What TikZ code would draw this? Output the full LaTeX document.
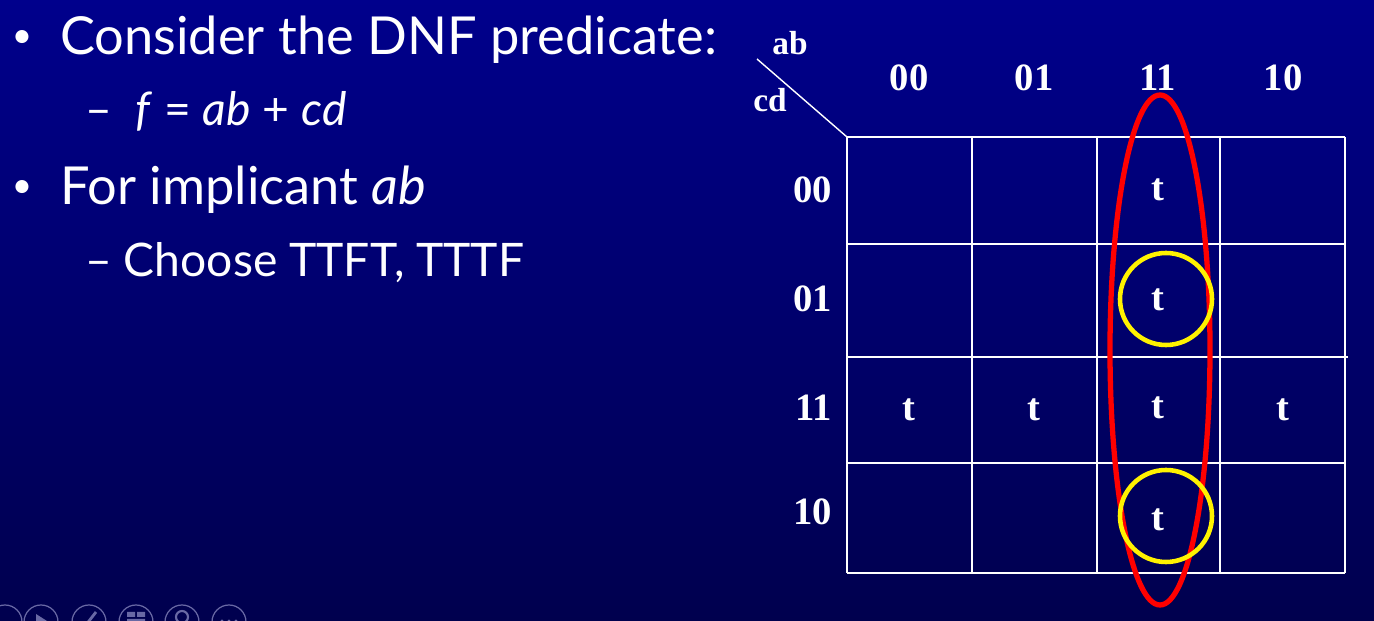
\documentclass[tikz,border=0pt]{standalone}
\usepackage{fontspec}
\setmainfont{Liberation Serif}
\newfontfamily\slidefont{Lato}
\usetikzlibrary{positioning}

\definecolor{slidetop}{RGB}{0,0,140}
\definecolor{slidebottom}{RGB}{0,0,78}
\definecolor{navgray}{RGB}{105,105,165}

\begin{document}
\begin{tikzpicture}[x=0.02cm,y=-0.02cm,
    bullettext/.style={anchor=base west,text=white,inner sep=0pt,
      font=\slidefont\fontsize{29.8}{29.8}\selectfont},
    subtext/.style={bullettext,font=\slidefont\fontsize{26.3}{26.3}\selectfont},
    bulletdot/.style={text=white,inner sep=0pt,
      font=\slidefont\fontsize{20}{20}\selectfont},
    maplabel/.style={text=white,inner sep=0pt,
      font=\bfseries\fontsize{22}{22}\selectfont},
    cornerlabel/.style={maplabel,font=\bfseries\fontsize{19}{19}\selectfont},
    gridline/.style={white,line width=1.1pt},
    redloop/.style={red,line width=3pt},
    yellowloop/.style={yellow,line width=2.6pt},
    navbutton/.style={navgray,line width=0.7pt}]

    % Background
    \shade[top color=slidetop,bottom color=slidebottom] (0,0) rectangle (1374,621);
    \useasboundingbox (0,0) rectangle (1374,621);

    % Slide text
    \node[bulletdot] (dotA) at (22,39) {•};
    \node[bullettext] (consider) at (60,55) {Consider the DNF predicate:};
    \node[subtext] (dashA) at (85,126) {–};
    \node[subtext] (formula) at (135,126) {\itshape f\/\upshape{} = \itshape ab\/\upshape{} + \itshape cd};
    \node[bulletdot] (dotB) at (22,189) {•};
    \node[bullettext] (implicant) at (60,205) {For implicant \textit{ab}};
    \node[subtext] (choose) at (85,277) {– Choose TTFT, TTTF};

    % Karnaugh map grid
    \foreach \x in {847,972,1097,1220,1345} {
        \draw[gridline] (\x,137) -- (\x,573);
    }
    \foreach \y in {137,244,463,573} {
        \draw[gridline] (847,\y) -- (1345,\y);
    }
    \draw[white,line width=1.7pt] (847,357) -- (1348,357);

    % Corner
    \coordinate (corner) at (847,137);
    \coordinate (slashtop) at (757,59);
    \draw[gridline,line width=0.8pt] (slashtop) -- (corner);
    \node[cornerlabel] (ab) at (790,43) {ab};
    \node[cornerlabel] (cd) at (770,100) {cd};

    % Column labels (ab)
    \node[maplabel] (col00) at (909,78) {00};
    \node[maplabel] (col01) at (1034,78) {01};
    \node[maplabel] (col11) at (1158,78) {11};
    \node[maplabel] (col10) at (1283,78) {10};

    % Row labels (cd)
    \node[maplabel,anchor=east] (row00) at (832,190) {00};
    \node[maplabel,anchor=east] (row01) at (832,299) {01};
    \node[maplabel,anchor=east] (row11) at (832,408) {11};
    \node[maplabel,anchor=east] (row10) at (832,512) {10};

    % Entries
    \node[maplabel] (t0011) at (1158,190) {t};
    \node[maplabel] (t0111) at (1158,300) {t};
    \node[maplabel] (t1100) at (909,410) {t};
    \node[maplabel] (t1101) at (1034,410) {t};
    \node[maplabel] (t1111) at (1158,408) {t};
    \node[maplabel] (t1110) at (1283,410) {t};
    \node[maplabel] (t1011) at (1158,520) {t};

    % Implicant ab
    \draw[redloop] (1160,350) ellipse [x radius=50,y radius=255];

    % Chosen tests
    \draw[yellowloop] (1166,299) circle [radius=46];
    \draw[yellowloop] (1166,516) circle [radius=46];

    % Slide show buttons
    \foreach \x in {5,41,89,136,182,229} {
        \draw[navbutton] (\x,622) circle [radius=17];
    }
    \fill[navgray] (36,614) -- (47,621) -- (36,628) -- cycle;
    \draw[navgray,line width=1.6pt] (82,630) -- (96,612);
    \fill[navgray] (127,612) rectangle (135,617) (137,612) rectangle (145,617)
                   (127,619) rectangle (145,624);
    \draw[navbutton,line width=1.2pt] (182,617) circle [radius=6];
    \foreach \x in {222,229,236} {
        \fill[navgray] (\x,621) circle [radius=1.6];
    }
\end{tikzpicture}
\end{document}
